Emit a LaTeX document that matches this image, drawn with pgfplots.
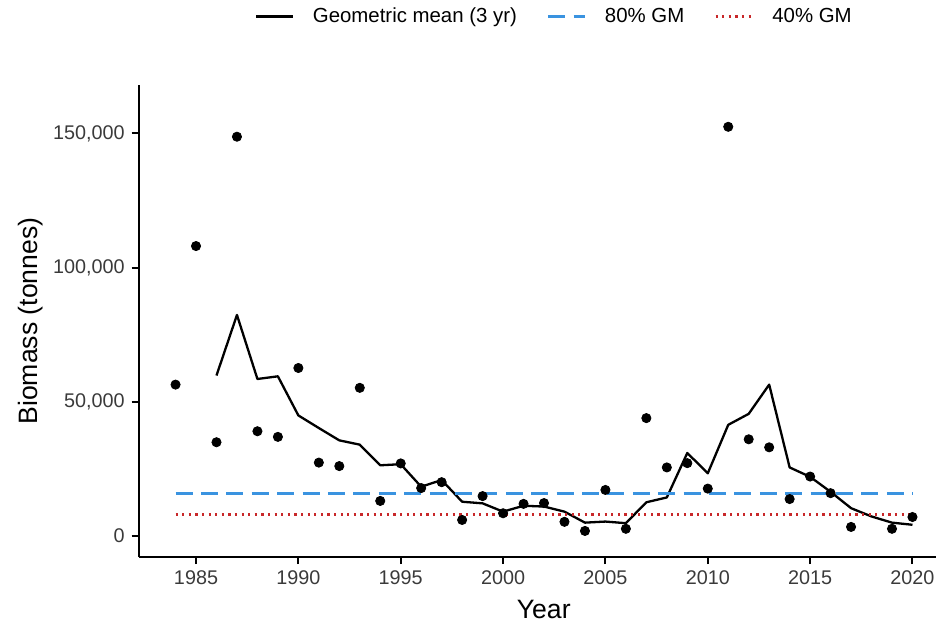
\documentclass[border=0pt]{standalone}
\usepackage{fontspec}
\setmainfont{Liberation Sans}
\usepackage{pgfplots}
\pgfplotsset{compat=1.18}

\definecolor{gmblue}{HTML}{3A93E0}
\definecolor{gmred}{HTML}{C8282A}
\definecolor{tickgray}{HTML}{3A3A3A}

\begin{document}
\begin{tikzpicture}
\begin{axis}[
name=main,
width=398.65pt, height=236pt, scale only axis,
xmin=1982.2, xmax=2021.15, ymin=-8020, ymax=168100,
axis x line*=bottom, axis y line*=left,
axis line style={line width=1pt, black},
tick style={line width=1pt, black},
major tick length=3.5pt, tick align=outside,
xtick={1985,1990,...,2020},
ytick={0,50000,100000,150000},
scaled y ticks=false,
/pgf/number format/.cd, fixed, 1000 sep={,}, assume math mode=true,
/pgfplots/.cd,
xticklabel style={font=\fontsize{9.9}{11}\selectfont, text=tickgray, /pgf/number format/1000 sep={}},
yticklabel style={font=\fontsize{9.9}{11}\selectfont, text=tickgray},
xlabel={Year}, ylabel={Biomass (tonnes)},
xlabel style={font=\fontsize{13.3}{16}\selectfont, at={(axis description cs:0.508,0)}, anchor=base, yshift=-30.5pt},
ylabel style={font=\fontsize{13.3}{16}\selectfont, at={(axis description cs:-0.135,0.5)}, anchor=center},
legend columns=-1,
legend image code/.code={\draw[#1] (0pt,0pt) -- (18.3pt,0pt);},
legend style={draw=none, fill=none, at={(0.1459,1)}, anchor=west, yshift=34.2pt,
  inner sep=0pt, outer sep=0pt, nodes={inner sep=0pt},
  font=\fontsize{10.2}{12}\selectfont,
  /tikz/every odd column/.append style={column sep=9.5pt},
  /tikz/every even column/.append style={column sep=15pt}},
]
% annual biomass estimates
\addplot[only marks, mark=*, mark size=2.3pt, black, forget plot] coordinates {
(1984,56300) (1985,108000) (1986,34800) (1987,148800) (1988,38900) (1989,36800)
(1990,62500) (1991,27200) (1992,25900) (1993,55100) (1994,12900) (1995,26900)
(1996,17700) (1997,19900) (1998,5800) (1999,14700) (2000,8300) (2001,11800)
(2002,12100) (2003,5100) (2004,1700) (2005,17000) (2006,2500) (2007,43800)
(2008,25400) (2009,27000) (2010,17500) (2011,152500) (2012,35900) (2013,32900)
(2014,13600) (2015,22000) (2016,15800) (2017,3200) (2019,2500) (2020,6900)
};
% 3-year geometric mean
\addplot[black, line width=1.15pt, line join=round] coordinates {
(1986,59700) (1987,82300) (1988,58400) (1989,59400) (1990,44800) (1991,40100)
(1992,35500) (1993,33900) (1994,26200) (1995,26600) (1996,18200) (1997,20700)
(1998,12600) (1999,12000) (2000,8900) (2001,11100) (2002,10800) (2003,8900)
(2004,4800) (2005,5200) (2006,4600) (2007,12400) (2008,14200) (2009,30800)
(2010,23200) (2011,41300) (2012,45400) (2013,56300) (2014,25400) (2015,21900)
(2016,16300) (2017,10200) (2018,7100) (2019,4800) (2020,4000)
};
\addlegendentry{Geometric mean (3 yr)}
\addplot[gmblue, line width=1.2pt, dash pattern=on 8.5pt off 4.2pt] coordinates {
(1984,15700) (2020,15700)
};
\addlegendentry{80\% GM}
\addplot[gmred, line width=1.2pt, dash pattern=on 1.1pt off 2.2pt] coordinates {
(1984,7850) (2020,7850)
};
\addlegendentry{40\% GM}
\end{axis}
\pgfresetboundingbox
\path ([shift={(-69.35pt,-34.5pt)}]main.south west) rectangle ([shift={(0pt,42.5pt)}]main.north east);
\end{tikzpicture}
\end{document}
